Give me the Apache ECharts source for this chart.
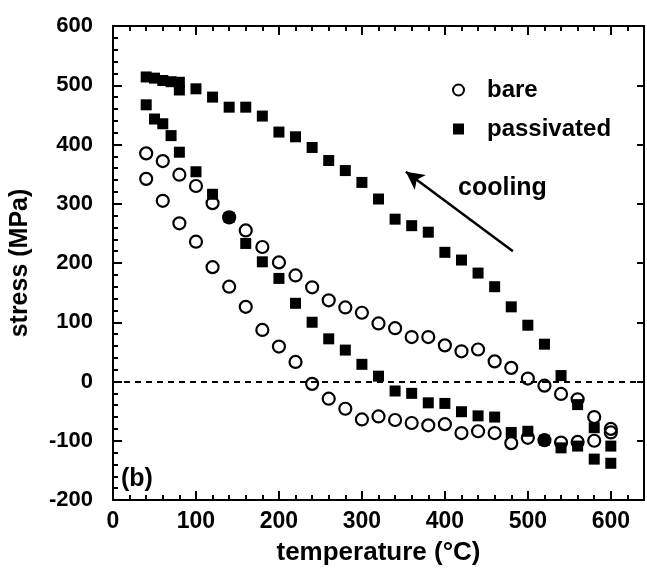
<!DOCTYPE html>
<html>
<head>
<meta charset="utf-8">
<script src="https://cdn.jsdelivr.net/npm/echarts@6/dist/echarts.min.js"></script>
<style>
html,body{margin:0;padding:0;background:#fff;}
#chart{width:647px;height:575px;}
</style>
</head>
<body>
<div id="chart"></div>
<script>
// temperatures (°C) for bare film branches
const bareX = [40,60,80,100,120,140,160,180,200,220,240,260,280,300,320,340,360,380,400,420,440,460,480,500,520,540,560,580,600];
const bareCooling = [385,372,349,330,301,277,255,227,201,179,159,137,125,116,98,90,75,75,61,51,54,34,23,5,-7,-21,-30,-60,-80];
const bareHeating = [342,305,267,236,193,160,126,87,59,33,-4,-29,-46,-64,-59,-65,-70,-74,-72,-87,-84,-87,-104,-95,-99,-103,-102,-100,-86];

// passivated film branches
const passCoolX = [40,50,60,70,80,80,100,120,140,160,180,200,220,240,260,280,300,320,340,360,380,400,420,440,460,480,500,520,540,560,580,600];
const passCooling = [514,512,508,506,505,492,494,480,463,463,448,421,413,395,373,356,336,308,274,263,252,218,205,183,160,126,95,63,10,-39,-78,-109];
const passHeatX = [40,50,60,70,80,100,120,140,160,180,200,220,240,260,280,300,320,340,360,380,400,420,440,460,480,500,520,540,560,580,600];
const passHeating = [467,443,435,415,387,354,316,277,233,202,174,132,100,72,53,29,9,-16,-20,-36,-37,-51,-58,-60,-86,-84,-99,-112,-109,-131,-138];

// cooling arrow (data coordinates: tail, head)
const arrowTail = [482, 220];
const arrowHead = [353, 354];

const xTicks = {min: 0, max: 640, interval: 100};
const yTicks = {min: -200, max: 600, interval: 100};

const FONT = "'Liberation Sans', Arial, Helvetica, sans-serif";

const barePts = bareX.map((x,i)=>[x, bareCooling[i]]).concat(bareX.map((x,i)=>[x, bareHeating[i]]));
const passPts = passCoolX.map((x,i)=>[x, passCooling[i]]).concat(passHeatX.map((x,i)=>[x, passHeating[i]]));

const chart = echarts.init(document.getElementById('chart'), null, {renderer:'canvas'});

const axLine = {show:true, onZero:false, lineStyle:{color:'#000', width:2}};
const option = {
  animation:false,
  backgroundColor:'#fff',
  grid:{left:112, right:3, top:26, bottom:75, containLabel:false},
  legend:{
    data:['bare','passivated'],
    orient:'vertical', left:447, top:73,
    itemWidth:11, itemHeight:11, itemGap:15,
    textStyle:{fontFamily:FONT, fontSize:24, fontWeight:'bold', color:'#000', padding:[0,0,0,18]},
    selectedMode:false
  },
  xAxis:[{
    type:'value', position:'bottom', min:xTicks.min, max:xTicks.max, interval:xTicks.interval,
    name:'temperature (°C)', nameLocation:'middle', nameGap:40,
    nameTextStyle:{fontFamily:FONT, fontSize:26, fontWeight:'bold', color:'#000'},
    axisLine:axLine,
    axisTick:{show:true, inside:true, length:9, lineStyle:{color:'#000', width:2}},
    minorTick:{show:true, splitNumber:5, length:5, lineStyle:{color:'#000', width:2}},
    splitLine:{show:false},
    axisLabel:{fontFamily:FONT, fontSize:23, fontWeight:'bold', color:'#000', margin:10, showMaxLabel:false}
  },{
    type:'value', position:'top', min:xTicks.min, max:xTicks.max, interval:xTicks.interval,
    axisLine:axLine,
    axisTick:{show:true, inside:true, length:9, lineStyle:{color:'#000', width:2}},
    minorTick:{show:true, splitNumber:5, length:5, lineStyle:{color:'#000', width:2}},
    splitLine:{show:false}, axisLabel:{show:false}
  }],
  yAxis:[{
    type:'value', position:'left', min:yTicks.min, max:yTicks.max, interval:yTicks.interval,
    name:'stress (MPa)', nameLocation:'middle', nameGap:80,
    nameTextStyle:{fontFamily:FONT, fontSize:25, fontWeight:'bold', color:'#000'},
    axisLine:axLine,
    axisTick:{show:true, inside:true, length:9, lineStyle:{color:'#000', width:2}},
    minorTick:{show:true, splitNumber:5, length:5, lineStyle:{color:'#000', width:2}},
    splitLine:{show:false},
    axisLabel:{fontFamily:FONT, fontSize:22, fontWeight:'bold', color:'#000', margin:20}
  },{
    type:'value', position:'right', min:yTicks.min, max:yTicks.max, interval:yTicks.interval,
    axisLine:axLine,
    axisTick:{show:true, inside:true, length:7, lineStyle:{color:'#000', width:2}},
    splitLine:{show:false}, axisLabel:{show:false}
  }],
  graphic:[
    {type:'text', left:458, top:176, style:{text:'cooling', fontFamily:FONT, fontSize:25, fontWeight:'bold', fill:'#000'}},
    {type:'text', left:121, top:467, style:{text:'(b)', fontFamily:FONT, fontSize:25, fontWeight:'bold', fill:'#000'}}
  ],
  series:[{
    name:'bare', type:'scatter', xAxisIndex:0, yAxisIndex:0,
    symbol:'circle', symbolSize:12,
    itemStyle:{color:'rgba(255,255,255,0)', borderColor:'#000', borderWidth:2.2, opacity:1},
    data:barePts,
    markLine:{silent:true, symbol:'none', label:{show:false},
      lineStyle:{color:'#000', width:2, type:[6,5]},
      data:[{yAxis:0}]}
  },{
    name:'passivated', type:'scatter', xAxisIndex:0, yAxisIndex:0,
    symbol:'rect', symbolSize:11,
    itemStyle:{color:'#000', opacity:1},
    data:passPts,
    markLine:{silent:true, symbol:['none','arrow'], symbolSize:[14,18], label:{show:false},
      lineStyle:{color:'#000', width:2.5, type:'solid'},
      data:[[{coord:arrowTail},{coord:arrowHead}]]}
  }]
};
chart.setOption(option);
</script>
</body>
</html>
